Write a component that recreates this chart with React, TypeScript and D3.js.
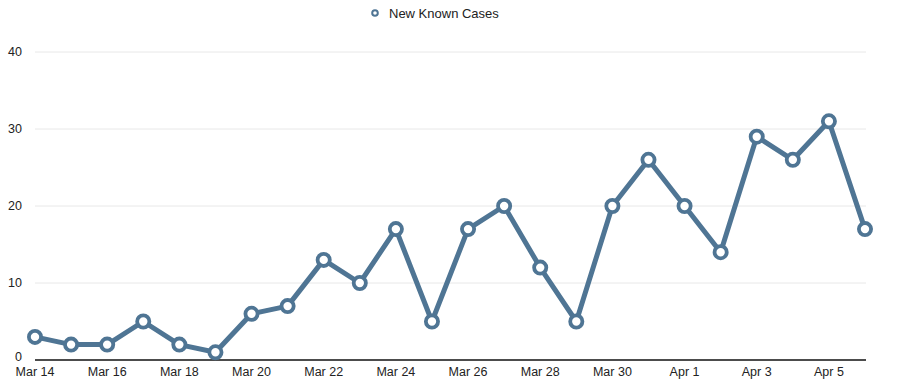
import React from "react";
import * as d3 from "d3";

const dates = ["Mar 14","Mar 15","Mar 16","Mar 17","Mar 18","Mar 19","Mar 20","Mar 21","Mar 22","Mar 23","Mar 24","Mar 25","Mar 26","Mar 27","Mar 28","Mar 29","Mar 30","Mar 31","Apr 1","Apr 2","Apr 3","Apr 4","Apr 5","Apr 6"];
const cases = [3,2,2,5,2,1,6,7,13,10,17,5,17,20,12,5,20,26,20,14,29,26,31,17];
const yTicks = [0,10,20,30,40];
const seriesName = "New Known Cases";

const W = 897, H = 391;
const left = 35, right = 865, top = 52, bottom = 360;
const color = "#4f7594";
const font = "'Liberation Sans', Arial, Helvetica, sans-serif";

export default function App() {
  const x = d3.scalePoint<string>().domain(dates).range([left, right]);
  const y = d3.scaleLinear().domain([0, 40]).range([bottom, top]);
  const line = d3.line<number>().x((_, i) => x(dates[i])!).y(d => y(d));
  const labeled = dates.filter((_, i) => i % 2 === 0);
  return (
    <svg width={W} height={H} style={{ position: "absolute", left: 0, top: 0 }} fontFamily={font}>
      <rect width={W} height={H} fill="#fff" />
      {yTicks.filter(t => t > 0).map(t => (
        <line key={t} x1={left} x2={right + 1} y1={y(t)} y2={y(t)} stroke="#e8e8e8" strokeWidth={1} />
      ))}
      {yTicks.map(t => (
        <text key={t} x={22} y={y(t) + (t === 0 ? -3 : 0)} dy="0.35em" textAnchor="end" fontSize={12.5} fill="#222">{t}</text>
      ))}
      <line x1={left} x2={right + 1} y1={bottom} y2={bottom} stroke="#111" strokeWidth={1.5} />
      {labeled.map(d => (
        <text key={d} x={x(d)!} y={bottom + 16} textAnchor="middle" fontSize={12.5} fill="#222">{d}</text>
      ))}
      <path d={line(cases)!} fill="none" stroke={color} strokeWidth={5} strokeLinejoin="round" />
      {cases.map((v, i) => (
        <circle key={i} cx={x(dates[i])!} cy={y(v)} r={6.1} fill="#fff" stroke={color} strokeWidth={3.8} />
      ))}
      <circle cx={375} cy={13} r={2.8} fill="#fff" stroke={color} strokeWidth={2} />
      <text x={389} y={17.5} fontSize={13} fill="#222">{seriesName}</text>
    </svg>
  );
}
